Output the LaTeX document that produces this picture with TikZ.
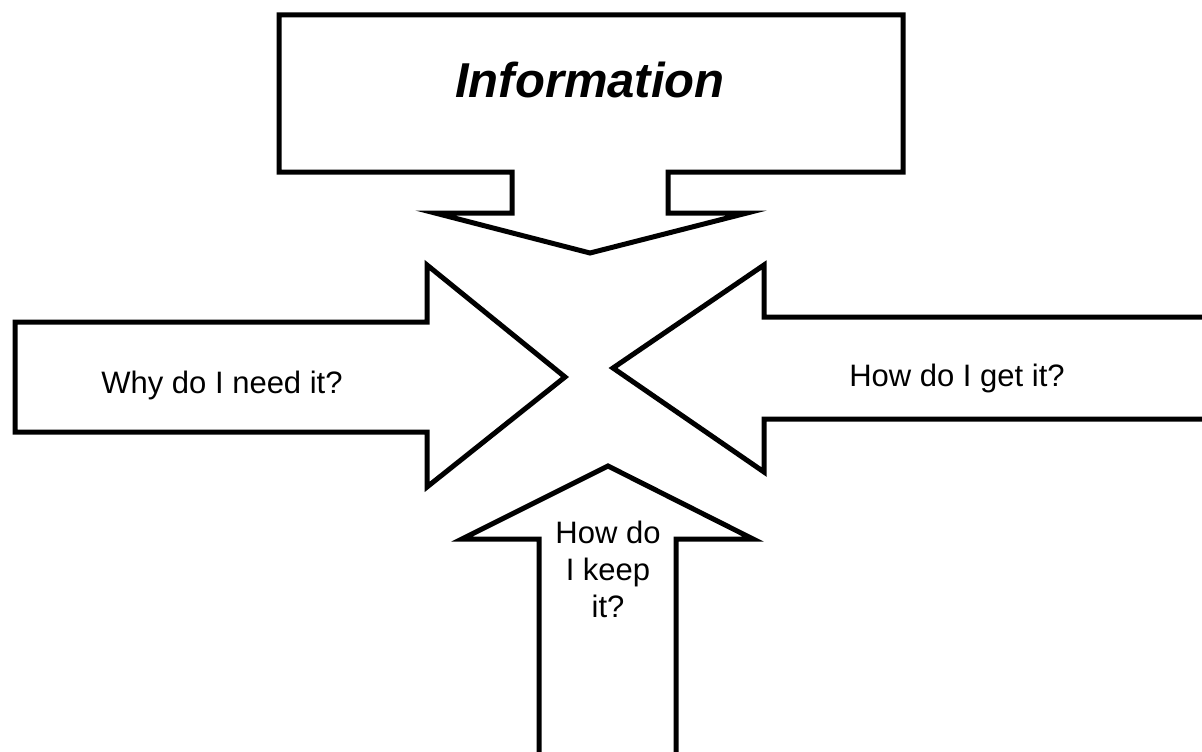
\documentclass[tikz,border=0pt]{standalone}
\usepackage{fontspec}
\setmainfont{Liberation Sans}
\usepackage{tikz}
\usetikzlibrary{positioning}
\tikzstyle{shp}=[draw, line width=5pt, fill=white, miter limit=20]
\tikzstyle{txt}=[font=\fontsize{31}{37}\selectfont, align=center, inner sep=0pt]
\tikzstyle{ttl}=[font=\fontsize{49}{56}\selectfont\bfseries\itshape, inner sep=0pt]

\begin{document}
\begin{tikzpicture}[x=1pt,y=-1pt]
\useasboundingbox (0,0) rectangle (1202,752);

% top box with its arrow
\draw[shp] (279,15) -- (903,15) -- (903,172) -- (668,172) -- (668,213) -- (747,213)
  -- (590,253) -- (435,213) -- (512,213) -- (512,172) -- (279,172) -- cycle;
\node[ttl] at (590,80) (info) {Information};

% left arrow
\draw[shp] (15,322) -- (427,322) -- (427,265) -- (565,377) -- (427,487)
  -- (427,432) -- (15,432) -- cycle;
\node[txt] at (222,385) (why) {Why do I need it?};

% right arrow
\draw[shp] (1215,317) -- (764,317) -- (764,265) -- (613,368) -- (764,472)
  -- (764,419) -- (1215,419);
\node[txt] at (957,378) (get) {How do I get it?};

% bottom arrow
\draw[shp] (539,765) -- (539,539) -- (462,539) -- (608,466) -- (753,539)
  -- (676,539) -- (676,765);
\node[txt] at (608,569) (keep) {How do\\I keep\\it?};
\end{tikzpicture}
\end{document}
